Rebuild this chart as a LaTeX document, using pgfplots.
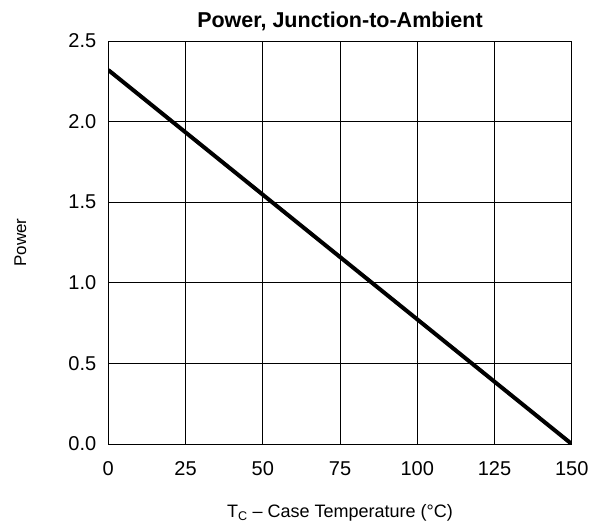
\documentclass[border=0pt]{standalone}
\usepackage{fontspec}
\setmainfont{Liberation Sans}
\usepackage{pgfplots}
\pgfplotsset{compat=1.18}
\begin{document}
\begin{tikzpicture}
\path[use as bounding box] (-108.3pt,-85pt) rectangle (492.7pt,444pt);
\begin{axis}[
  at={(0pt,0pt)}, anchor=south west,
  scale only axis, width=463.4pt, height=403pt,
  xmin=0, xmax=150, ymin=0, ymax=2.5,
  xtick={0,25,...,150}, ytick={0,0.5,...,2.5},
  y tick label style={/pgf/number format/.cd, fixed, fixed zerofill, precision=1, /tikz/.cd, xshift=-8.5pt},
  /pgf/number format/assume math mode=true,
  tick label style={font=\fontsize{20}{22}\selectfont},
  x tick label style={yshift=-14.5pt},
  major tick length=0pt,
  grid=major, grid style={black, line width=0.8pt},
  axis line style={black, line width=0.9pt},
  title={\bfseries Power, Junction-to-Ambient},
  title style={font=\fontsize{21.5}{24}\selectfont, at={(axis description cs:0.5,1.034)}, anchor=center},
  xlabel={T\textsubscript{C} – Case Temperature (°C)},
  xlabel style={font=\fontsize{18}{21}\selectfont, at={(axis description cs:0.5,-0.171)}, anchor=center},
  ylabel={Power},
  ylabel style={font=\fontsize{17}{20}\selectfont, at={(axis description cs:-0.19,0.5)}, anchor=center},
]
\addplot[black, line width=4pt, line cap=butt] coordinates {(0,2.32) (150,0)};
\end{axis}
\end{tikzpicture}
\end{document}
